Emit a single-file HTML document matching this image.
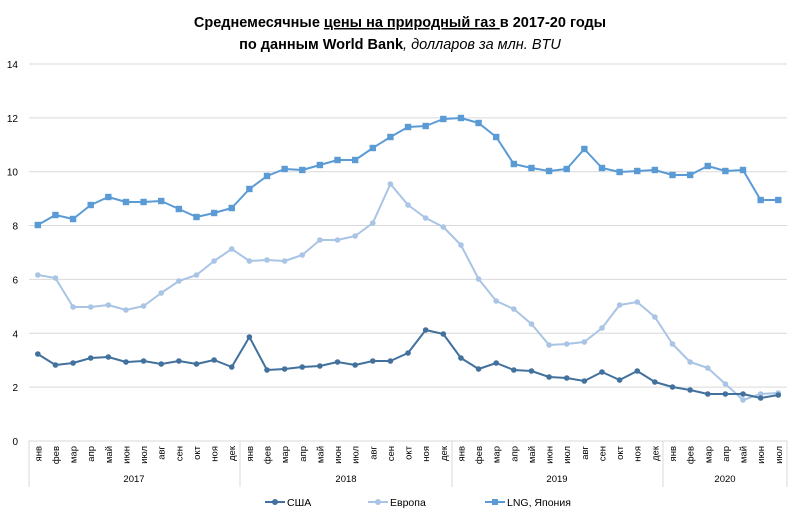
<!DOCTYPE html>
<html><head><meta charset="utf-8"><style>
body{margin:0;background:#fff;}
svg{display:block;font-family:"Liberation Sans","DejaVu Sans",sans-serif;}
</style></head><body>
<svg id="c" width="799" height="515" viewBox="0 0 799 515" xmlns="http://www.w3.org/2000/svg">
<rect width="799" height="515" fill="#fff"/>
<text x="400" y="27" text-anchor="middle" font-size="14.5" font-weight="bold" fill="#000">Среднемесячные  <tspan text-decoration="underline">цены на  природный  газ </tspan>в 2017-20 годы</text>
<text x="400" y="49" text-anchor="middle" font-size="14.5" fill="#000"><tspan font-weight="bold">по данным  World  Bank</tspan><tspan font-style="italic">, долларов за млн. BTU</tspan></text>
<g id="grid" stroke="#d9d9d9" stroke-width="1"></g>
<g id="yl" font-size="10" fill="#000" text-anchor="end"></g>
<g id="xl" font-size="9.5" fill="#000"></g>
<text x="134" y="482" font-size="9.5" text-anchor="middle">2017</text>
<text x="346" y="482" font-size="9.5" text-anchor="middle">2018</text>
<text x="557" y="482" font-size="9.5" text-anchor="middle">2019</text>
<text x="725" y="482" font-size="9.5" text-anchor="middle">2020</text>
<g id="series"></g>
<g font-size="10.5" fill="#000">
<line x1="265" y1="502" x2="285" y2="502" stroke="#41719c" stroke-width="2"/><circle cx="275" cy="502" r="3" fill="#41719c"/>
<text x="287" y="506">США</text>
<line x1="368" y1="502" x2="388" y2="502" stroke="#a9c4e4" stroke-width="2"/><circle cx="378" cy="502" r="3" fill="#a9c4e4"/>
<text x="390" y="506">Европа</text>
<line x1="485" y1="502" x2="505" y2="502" stroke="#5b9bd5" stroke-width="2"/><rect x="492" y="499" width="6" height="6" fill="#5b9bd5"/>
<text x="507" y="506">LNG, Япония</text>
</g>
</svg>
<script>
var NS="http://www.w3.org/2000/svg";
function el(p,t,a,txt){var e=document.createElementNS(NS,t);for(var k in a)e.setAttribute(k,a[k]);if(txt)e.textContent=txt;document.getElementById(p).appendChild(e);return e;}
for(var k=0;k<=7;k++){var y=441-53.86*k;
 if(k>0)el("grid","line",{x1:29,x2:787,y1:y,y2:y});
 el("yl","text",{x:18,y:y+4},String(2*k));}
el("grid","line",{x1:29,x2:787,y1:441,y2:441});
[29,240,452,663,787].forEach(function(x){el("grid","line",{x1:x,x2:x,y1:441,y2:487});});
var m=["янв","фев","мар","апр","май","июн","июл","авг","сен","окт","ноя","дек"];
var X=function(i){return 29+17.63*(i+0.5);};
for(var i=0;i<43;i++){var x=X(i);el("xl","text",{x:0,y:0,transform:"translate("+(x+3.5)+",446) rotate(-90)","text-anchor":"end"},m[i%12]);}
var usa=[354,365,363,358,357,362,361,364,361,364,360,367,337,370,369,367,366,362,365,361,361,353,330,334,358,369,363,370,371,377,378,381,372,380,371,382,387,390,394,394,394,398,395];
var eu=[275,278,307,307,305,310,306,293,281,275,261,249,261,260,261,255,240,240,236,223,184,205,218,227,245,279,301,309,324,345,344,342,328,305,302,317,344,362,368,384,400,394,393];
var lng=[225,215,219,205,197,202,202,201,209,217,213,208,189,176,169,170,165,160,160,148,137,127,126,119,118,123,137,164,168,171,169,149,168,172,171,170,175,175,166,171,170,200,200];
function line(d,c,sq){var p=d.map(function(y,i){return X(i).toFixed(1)+","+y;}).join(" ");
 el("series","polyline",{points:p,fill:"none",stroke:c,"stroke-width":2,"stroke-linejoin":"round"});
 d.forEach(function(y,i){if(sq)el("series","rect",{x:X(i)-3.2,y:y-3.2,width:6.4,height:6.4,fill:c});else el("series","circle",{cx:X(i),cy:y,r:2.8,fill:c});});}
line(eu,"#a9c4e4",false);line(usa,"#41719c",false);line(lng,"#5b9bd5",true);
</script>
</body></html>
